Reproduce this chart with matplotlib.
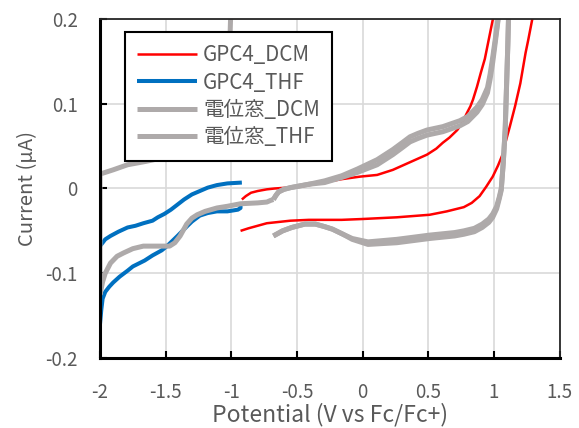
import matplotlib
matplotlib.use("Agg")
import matplotlib.pyplot as plt
from matplotlib.ticker import FuncFormatter

plt.rcParams['font.family'] = ['Noto Sans CJK JP', 'DejaVu Sans']
plt.rcParams['axes.unicode_minus'] = False

# ---------------- data ----------------
labels = ["GPC4_DCM", "GPC4_THF", "電位窓_DCM", "電位窓_THF"]

# GPC4 in DCM (red): forward (upper) branch and reverse (lower) branch
red_up_v = [-0.92, -0.89, -0.85, -0.80, -0.73, -0.67, -0.48, -0.41, -0.16, -0.02, 0.11, 0.23,
            0.36, 0.49, 0.56, 0.61, 0.66, 0.72, 0.76, 0.79, 0.82, 0.84, 0.87, 0.90, 0.93, 0.96,
            0.99, 1.02]
red_up_i = [-0.013, -0.009, -0.005, -0.003, -0.001, 0.000, 0.002, 0.004, 0.011, 0.014, 0.016,
            0.022, 0.031, 0.040, 0.047, 0.054, 0.060, 0.069, 0.078, 0.088, 0.097, 0.105, 0.120,
            0.137, 0.153, 0.176, 0.199, 0.230]
red_dn_v = [1.32, 1.29, 1.26, 1.24, 1.20, 1.16, 1.12, 1.09, 1.07, 1.03, 0.99, 0.94, 0.89, 0.83,
            0.77, 0.64, 0.51, 0.26, 0.00, -0.16, -0.41, -0.55, -0.67, -0.73, -0.80, -0.87, -0.93]
red_dn_i = [0.230, 0.199, 0.175, 0.160, 0.124, 0.097, 0.073, 0.056, 0.042, 0.027, 0.014, 0.002,
            -0.009, -0.017, -0.022, -0.027, -0.031, -0.034, -0.036, -0.037, -0.037, -0.038,
            -0.040, -0.041, -0.044, -0.047, -0.050]

# GPC4 in THF (blue): cathodic branch then return branch
blue_v = [-0.93, -0.93, -0.95, -1.03, -1.11, -1.18, -1.24, -1.30, -1.34, -1.41, -1.49, -1.53,
          -1.60, -1.66, -1.75, -1.79, -1.85, -1.90, -1.93, -1.96, -1.98, -1.99, -2.00,
          -2.00, -1.98, -1.96, -1.92, -1.86, -1.79, -1.73, -1.67, -1.60, -1.56, -1.51, -1.46,
          -1.41, -1.36, -1.30, -1.24, -1.18, -1.11, -1.03, -0.92]
blue_i = [-0.018, -0.023, -0.025, -0.027, -0.027, -0.029, -0.032, -0.039, -0.045, -0.056,
          -0.068, -0.073, -0.079, -0.085, -0.092, -0.097, -0.104, -0.111, -0.116, -0.122,
          -0.130, -0.143, -0.160,
          -0.068, -0.064, -0.060, -0.056, -0.051, -0.046, -0.044, -0.041, -0.038, -0.034,
          -0.030, -0.025, -0.019, -0.013, -0.007, -0.003, 0.001, 0.004, 0.006, 0.007]

# Potential window in DCM (gray): two overlapping cycles (edges of the band)
win_dcm_v = [-0.68, -0.61, -0.54, -0.44, -0.36, -0.29, -0.23, -0.15, -0.08, 0.04, 0.26, 0.51,
             0.70, 0.77, 0.85, 0.91, 0.96, 0.99, 1.02, 1.04, 1.055, 1.07, 1.085, 1.095, 1.105,
             1.11, 1.115,
             1.04, 1.03, 1.01, 0.99, 0.97, 0.95, 0.91, 0.87, 0.80, 0.74, 0.61, 0.49, 0.42, 0.36,
             0.30, 0.23, 0.11, -0.04, -0.16, -0.29, -0.41, -0.55, -0.60, -0.64, -0.66, -0.68]
win_dcm_i1 = [-0.056, -0.050, -0.046, -0.042, -0.042, -0.045, -0.048, -0.054, -0.059, -0.063,
              -0.060, -0.055, -0.052, -0.050, -0.047, -0.042, -0.036, -0.030, -0.021, -0.010,
              0.000, 0.030, 0.070, 0.120, 0.170, 0.200, 0.230,
              0.230, 0.200, 0.177, 0.155, 0.135, 0.119, 0.105, 0.096, 0.085, 0.080, 0.073,
              0.069, 0.065, 0.061, 0.054, 0.046, 0.034, 0.023, 0.015, 0.009, 0.005, 0.001,
              -0.001, -0.004, -0.008, -0.013]
win_dcm_i2 = [-0.056, -0.050, -0.046, -0.042, -0.042, -0.045, -0.048, -0.054, -0.060, -0.066,
              -0.064, -0.059, -0.056, -0.054, -0.051, -0.046, -0.040, -0.034, -0.024, -0.012,
              -0.002, 0.030, 0.070, 0.120, 0.170, 0.200, 0.230,
              0.230, 0.198, 0.173, 0.149, 0.129, 0.113, 0.099, 0.090, 0.079, 0.074, 0.067,
              0.063, 0.059, 0.055, 0.048, 0.040, 0.028, 0.019, 0.013, 0.007, 0.005, 0.001,
              -0.001, -0.004, -0.008, -0.013]

# Potential window in THF (gray): cathodic branch then return branch
win_thf_v = [-0.68, -0.70, -0.73, -0.80, -0.93, -1.03, -1.11, -1.20, -1.26, -1.30, -1.34,
             -1.39, -1.43, -1.47, -1.54, -1.67, -1.75, -1.82, -1.87, -1.92, -1.96, -1.98, -2.00,
             -2.00, -1.90, -1.79, -1.65, -1.53, -1.40, -1.28, -1.18, -1.10, -1.05, -1.01, -1.00]
win_thf_i = [-0.013, -0.014, -0.016, -0.017, -0.018, -0.021, -0.023, -0.027, -0.031, -0.035,
             -0.042, -0.056, -0.064, -0.068, -0.068, -0.068, -0.071, -0.076, -0.080, -0.088,
             -0.100, -0.110, -0.125,
             0.017, 0.022, 0.028, 0.032, 0.036, 0.043, 0.052, 0.068, 0.095, 0.130, 0.180, 0.230]

x_ticks = [-2, -1.5, -1, -0.5, 0, 0.5, 1, 1.5]
y_ticks = [-0.2, -0.1, 0, 0.1, 0.2]

# ---------------- styles ----------------
RED = "#FF0000"
BLUE = "#0070C0"
GRAY = "#AEAAAA"
TXT = "#595959"

fig = plt.figure(figsize=(5.79, 4.28), dpi=100)
ax = fig.add_axes([0.1727, 0.1636, 0.7940, 0.7920])

kw = dict(solid_joinstyle='round', solid_capstyle='butt')
ax.plot(red_up_v, red_up_i, color=RED, lw=1.8, label=labels[0], **kw)
ax.plot(red_dn_v, red_dn_i, color=RED, lw=1.8, **kw)
ax.plot(blue_v, blue_i, color=BLUE, lw=2.9, label=labels[1], **kw)
ax.plot(win_dcm_v, win_dcm_i1, color=GRAY, lw=3.6, label=labels[2], **kw)
ax.plot(win_dcm_v, win_dcm_i2, color=GRAY, lw=3.6, **kw)
ax.plot(win_thf_v, win_thf_i, color=GRAY, lw=3.6, label=labels[3], **kw)

ax.set_xlim(-2, 1.5)
ax.set_ylim(-0.2, 0.2)
ax.set_xticks(x_ticks)
ax.set_yticks(y_ticks)
fmt = FuncFormatter(lambda v, p: ("%g" % round(v, 3)))
ax.xaxis.set_major_formatter(fmt)
ax.yaxis.set_major_formatter(fmt)

ax.grid(True, color="#D9D9D9", lw=1.2)
ax.set_axisbelow(True)

ax.tick_params(axis='both', direction='in', length=5, width=1.5, colors='black',
               labelcolor=TXT, labelsize=13.5)
ax.tick_params(axis='x', pad=17)
ax.tick_params(axis='y', pad=16)

for side in ['left', 'bottom']:
    ax.spines[side].set_linewidth(2.2)
    ax.spines[side].set_color('black')
for side in ['top', 'right']:
    ax.spines[side].set_linewidth(1.3)
    ax.spines[side].set_color('#262626')

ax.set_xlabel("Potential (V vs Fc/Fc+)", fontsize=16.5, color=TXT, labelpad=0)
ax.set_ylabel("Current (μA)", fontsize=14.5, color=TXT, labelpad=5)

leg = ax.legend(loc='upper left', bbox_to_anchor=(0.054, 0.962), borderaxespad=0,
                fontsize=14.8, frameon=True, fancybox=False, edgecolor='black',
                handlelength=2.9, handletextpad=0.3, labelspacing=0.26,
                borderpad=0.6, labelcolor=TXT)
leg.get_frame().set_linewidth(1.5)
leg.get_frame().set_alpha(1)

fig.savefig("out.png", dpi=100)
